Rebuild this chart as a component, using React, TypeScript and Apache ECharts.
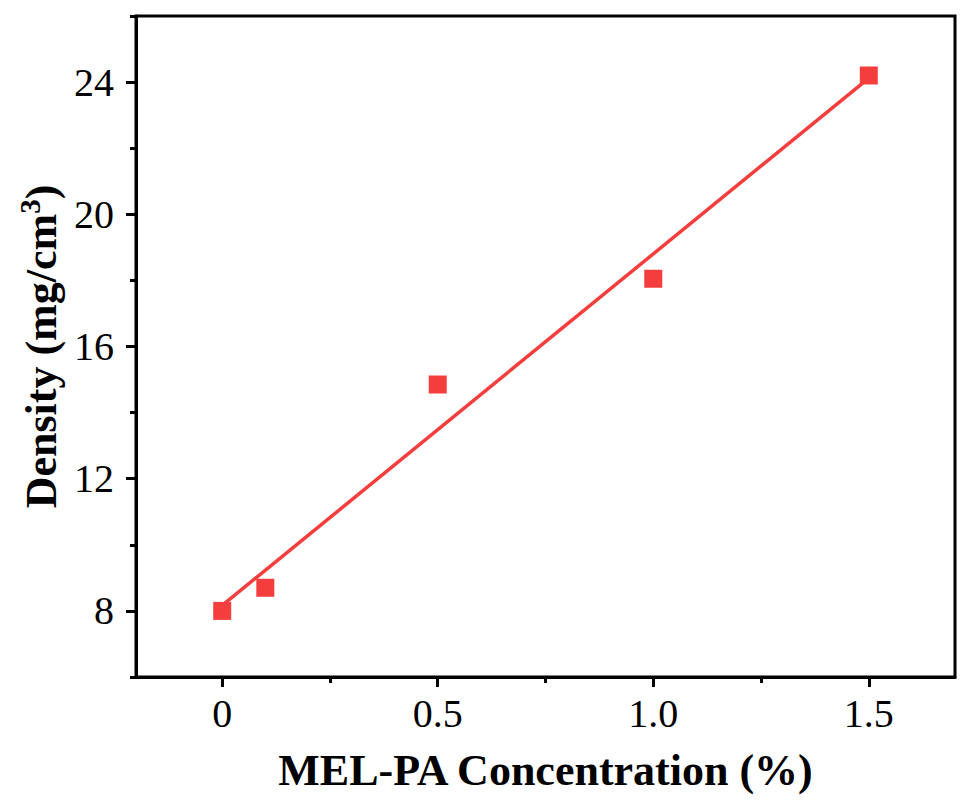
import React, { useEffect, useRef } from "react";
import * as echarts from "echarts";

const concentrations = [0, 0.1, 0.5, 1.0, 1.5];
const densities = [8.0, 8.7, 14.85, 18.05, 24.2];
const xMajorTicks = [0, 0.5, 1.0, 1.5];
const xMinorTicks = [0.25, 0.75, 1.25];
const yMajorTicks = [8, 12, 16, 20, 24];
const yMinorTicks = [6, 10, 14, 18, 22, 26];

function linearFit(xs: number[], ys: number[]) {
  const n = xs.length;
  const mx = xs.reduce((a, b) => a + b, 0) / n;
  const my = ys.reduce((a, b) => a + b, 0) / n;
  let sxy = 0;
  let sxx = 0;
  for (let i = 0; i < n; i++) {
    sxy += (xs[i] - mx) * (ys[i] - my);
    sxx += (xs[i] - mx) * (xs[i] - mx);
  }
  const slope = sxy / sxx;
  return { slope, intercept: my - slope * mx };
}

const RED = "#F43D3D";
const FONT = "Liberation Serif";

export default function App() {
  const ref = useRef<HTMLDivElement>(null);
  useEffect(() => {
    if (!ref.current) return;
    const chart = echarts.init(ref.current, null, { renderer: "svg" });
    const fit = linearFit(concentrations, densities);
    const xStart = concentrations[0];
    const xEnd = concentrations[concentrations.length - 1];
    const fitLine = [
      [xStart, fit.intercept + fit.slope * xStart],
      [xEnd, fit.intercept + fit.slope * xEnd],
    ];
    const axisLine = { show: true, onZero: false, lineStyle: { color: "#000", width: 3 } };
    chart.setOption({
      animation: false,
      backgroundColor: "#fff",
      grid: {
        left: 136,
        right: 7,
        top: 16,
        bottom: 123,
        show: true,
        borderColor: "#000",
        borderWidth: 3,
        backgroundColor: "transparent",
      },
      xAxis: [
        {
          type: "value",
          min: -0.2,
          max: 1.7,
          axisLine,
          axisTick: {
            show: true,
            inside: false,
            length: 10,
            lineStyle: { color: "#000", width: 3 },
            customValues: xMajorTicks,
          },
          axisLabel: {
            customValues: xMajorTicks,
            fontFamily: FONT,
            fontSize: 40,
            color: "#000",
            margin: 16,
            formatter: (v: number) => (v === 0 ? "0" : v.toFixed(1)),
          },
          splitLine: { show: false },
          name: "MEL-PA Concentration (%)",
          nameLocation: "middle",
          nameGap: 71,
          nameTextStyle: {
            fontFamily: FONT,
            fontSize: 44,
            fontWeight: "bold",
            color: "#000",
          },
        },
        {
          type: "value",
          position: "bottom",
          min: -0.2,
          max: 1.7,
          axisLine: { show: false, onZero: false },
          axisTick: {
            show: true,
            inside: false,
            length: 6,
            lineStyle: { color: "#000", width: 3 },
            customValues: xMinorTicks,
          },
          axisLabel: { show: false },
          splitLine: { show: false },
        },
      ],
      yAxis: [
        {
          type: "value",
          min: 6,
          max: 26,
          axisLine,
          axisTick: {
            show: true,
            inside: false,
            length: 10,
            lineStyle: { color: "#000", width: 3 },
            customValues: yMajorTicks,
          },
          axisLabel: {
            customValues: yMajorTicks,
            fontFamily: FONT,
            fontSize: 40,
            color: "#000",
            margin: 22,
          },
          splitLine: { show: false },
          name: "{a|Density (mg/cm}{s|3}{a|)}",
          nameLocation: "middle",
          nameGap: 68,
          nameRotate: 90,
          nameTextStyle: {
            rich: {
              a: {
                fontFamily: FONT,
                fontSize: 44,
                fontWeight: "bold",
                color: "#000",
              },
              s: {
                fontFamily: FONT,
                fontSize: 29,
                fontWeight: "bold",
                color: "#000",
                padding: [0, 0, 22, 0],
              },
            },
          },
        },
        {
          type: "value",
          position: "left",
          min: 6,
          max: 26,
          axisLine: { show: false, onZero: false },
          axisTick: {
            show: true,
            inside: false,
            length: 6,
            lineStyle: { color: "#000", width: 3 },
            customValues: yMinorTicks,
          },
          axisLabel: { show: false },
          splitLine: { show: false },
        },
      ],
      series: [
        {
          type: "line",
          data: fitLine,
          showSymbol: false,
          symbol: "none",
          lineStyle: { color: RED, width: 3.5 },
          z: 2,
        },
        {
          type: "scatter",
          data: concentrations.map((x, i) => [x, densities[i]]),
          symbol: "rect",
          symbolSize: 18,
          itemStyle: { color: RED, opacity: 1 },
          z: 3,
        },
      ],
    });
    return () => chart.dispose();
  }, []);
  return (
    <div
      ref={ref}
      style={{ position: "absolute", left: 0, top: 0, width: 962, height: 800 }}
    />
  );
}
